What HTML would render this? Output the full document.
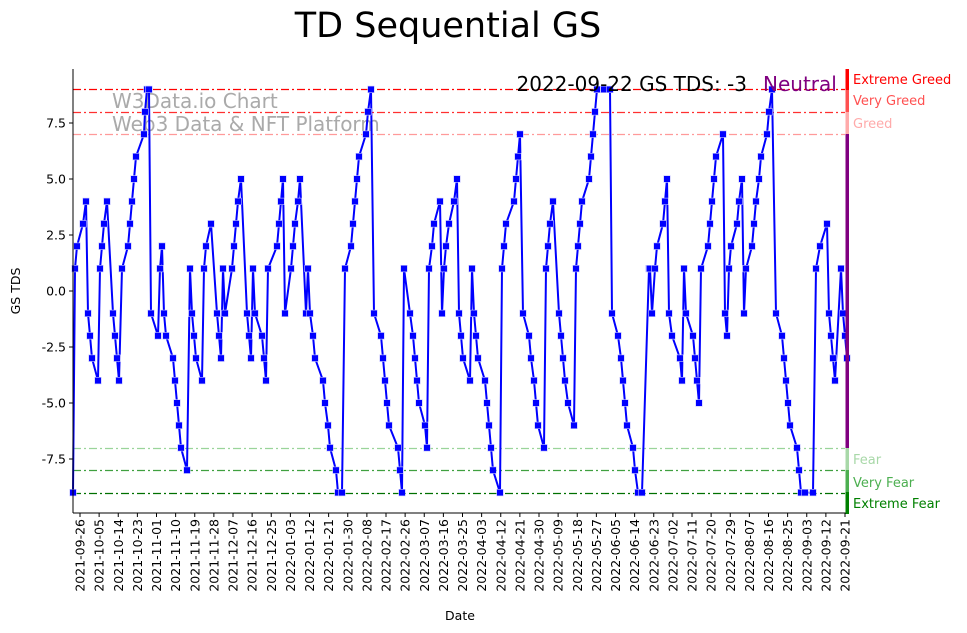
<!DOCTYPE html>
<html><head><meta charset="utf-8"><style>
body{margin:0;background:#fff}
svg{display:block;font-family:"DejaVu Sans","Liberation Sans",sans-serif}
</style></head><body>
<svg id="s" width="967" height="633" viewBox="0 0 967 633" xmlns="http://www.w3.org/2000/svg">
<text x="448" y="37" font-size="35" text-anchor="middle" fill="#000">TD Sequential GS</text>
<g id="g"></g>
</svg>
<script>
const NS="http://www.w3.org/2000/svg";const g=document.getElementById('g');
function el(t,a,txt){const e=document.createElementNS(NS,t);for(const k in a)e.setAttribute(k,a[k]);if(txt!==undefined)e.textContent=txt;g.appendChild(e);return e;}
const Y=v=>291-22.4*v;
[[9,'#ff0000'],[8,'#ff3030'],[7,'#ff9a9a'],[-7,'#9ad49a'],[-8,'#40a040'],[-9,'#007000']].forEach(([v,c])=>{
 const y=Math.round(Y(v))+0.5;
 el('line',{x1:73,x2:845,y1:y,y2:y,stroke:c,'stroke-width':1.2,'stroke-dasharray':'8,3,2,3'});});
el('text',{x:112,y:108,'font-size':20,fill:'#aaaaaa'},'W3Data.io Chart');
el('text',{x:112,y:131,'font-size':20,fill:'#aaaaaa'},'Web3 Data & NFT Platform');
const P=[[73,-9],[75,1],[77,2],[83,3],[86,4],[88,-1],[90,-2],[92,-3],[98,-4],[100,1],[102,2],[104,3],[107,4],[113,-1],[115,-2],[117,-3],[119,-4],[122,1],[128,2],[130,3],[132,4],[134,5],[136,6],[144,7],[145,8],[147,9],[149,9],[151,-1],[158,-2],[160,1],[162,2],[164,-1],[166,-2],[173,-3],[175,-4],[177,-5],[179,-6],[181,-7],[187,-8],[190,1],[192,-1],[194,-2],[196,-3],[202,-4],[204,1],[206,2],[211,3],[217,-1],[219,-2],[221,-3],[223,1],[225,-1],[232,1],[234,2],[236,3],[238,4],[241,5],[247,-1],[249,-2],[251,-3],[253,1],[255,-1],[262,-2],[264,-3],[266,-4],[268,1],[277,2],[279,3],[281,4],[283,5],[285,-1],[291,1],[293,2],[295,3],[298,4],[300,5],[306,-1],[308,1],[310,-1],[313,-2],[315,-3],[323,-4],[325,-5],[328,-6],[330,-7],[336,-8],[338,-9],[342,-9],[345,1],[351,2],[353,3],[355,4],[357,5],[359,6],[366,7],[368,8],[371,9],[374,-1],[381,-2],[383,-3],[385,-4],[387,-5],[389,-6],[398,-7],[400,-8],[402,-9],[404,1],[410,-1],[413,-2],[415,-3],[417,-4],[419,-5],[425,-6],[427,-7],[429,1],[432,2],[434,3],[440,4],[442,-1],[444,1],[446,2],[449,3],[454,4],[457,5],[459,-1],[461,-2],[463,-3],[470,-4],[472,1],[474,-1],[476,-2],[478,-3],[485,-4],[487,-5],[489,-6],[491,-7],[493,-8],[500,-9],[502,1],[504,2],[506,3],[514,4],[516,5],[518,6],[520,7],[523,-1],[529,-2],[531,-3],[534,-4],[536,-5],[538,-6],[544,-7],[546,1],[548,2],[550,3],[553,4],[559,-1],[561,-2],[563,-3],[565,-4],[568,-5],[574,-6],[576,1],[578,2],[580,3],[582,4],[589,5],[591,6],[593,7],[595,8],[597,9],[604,9],[610,9],[612,-1],[618,-2],[621,-3],[623,-4],[625,-5],[627,-6],[633,-7],[635,-8],[638,-9],[642,-9],[649,1],[650,1],[652,-1],[655,1],[657,2],[663,3],[665,4],[667,5],[669,-1],[672,-2],[680,-3],[682,-4],[684,1],[686,-1],[693,-2],[695,-3],[697,-4],[699,-5],[701,1],[708,2],[710,3],[712,4],[714,5],[716,6],[723,7],[725,-1],[727,-2],[729,1],[731,2],[737,3],[739,4],[742,5],[744,-1],[746,1],[752,2],[754,3],[756,4],[759,5],[761,6],[767,7],[769,8],[772,9],[776,-1],[782,-2],[784,-3],[786,-4],[788,-5],[790,-6],[797,-7],[799,-8],[801,-9],[805,-9],[813,-9],[816,1],[820,2],[827,3],[829,-1],[831,-2],[833,-3],[835,-4],[841,1],[843,-1],[845,-2],[847,-3]];
el('polyline',{points:P.map(p=>p[0]+','+Y(p[1])).join(' '),fill:'none',stroke:'#0000ff','stroke-width':2});
P.forEach(p=>el('rect',{x:p[0]-3.3,y:Y(p[1])-3.3,width:6.6,height:6.6,fill:'#0000ff',stroke:'#c8c8ff','stroke-width':0.6}));
el('line',{x1:73,x2:73,y1:69,y2:513,stroke:'#000','stroke-width':1});
el('line',{x1:73,x2:849,y1:513,y2:513,stroke:'#000','stroke-width':1});
[7.5,5,2.5,0,-2.5,-5,-7.5].forEach(v=>{const y=Y(v);el('line',{x1:69,x2:73,y1:y,y2:y,stroke:'#000'});
 el('text',{x:66,y:y+4.5,'font-size':12.5,'text-anchor':'end'},v.toFixed(1));});
el('text',{x:20,y:291,'font-size':12.5,'text-anchor':'middle',transform:'rotate(-90 20 291)'},'GS TDS');
const d0=new Date(Date.UTC(2021,8,26));
for(let i=0;i<=40;i++){const x=80+i*19.125;el('line',{x1:x,x2:x,y1:513,y2:517,stroke:'#000'});
 const d=new Date(d0.getTime()+i*9*864e5);const s=d.toISOString().slice(0,10);
 el('text',{x:x+4.5,y:519,'font-size':12.5,'text-anchor':'end',transform:`rotate(-90 ${x+4.5} 519)`},s);}
el('text',{x:460,y:620,'font-size':12.5,'text-anchor':'middle'},'Date');
[[69,90,'#ff0000'],[90,112,'#ff5050'],[112,134,'#ffaaaa'],[134,448,'#800080'],[448,470,'#a8d8a8'],[470,492,'#4caf50'],[492,514,'#008000']].forEach(([a,b,c])=>el('rect',{x:845.5,y:a,width:3.5,height:b-a,fill:c}));
[[84,'#ff0000','Extreme Greed'],[105,'#ff5050','Very Greed'],[128,'#ffaaaa','Greed'],[464,'#a8d8a8','Fear'],[487,'#4caf50','Very Fear'],[508,'#008000','Extreme Fear']].forEach(([y,c,t])=>el('text',{x:853,y:y,'font-size':13,fill:c},t));
el('text',{x:747,y:91,'font-size':20,'text-anchor':'end',fill:'#000'},'2022-09-22 GS TDS: -3');
el('text',{x:763,y:91,'font-size':20,fill:'#800080'},'Neutral');
</script>
</body></html>
